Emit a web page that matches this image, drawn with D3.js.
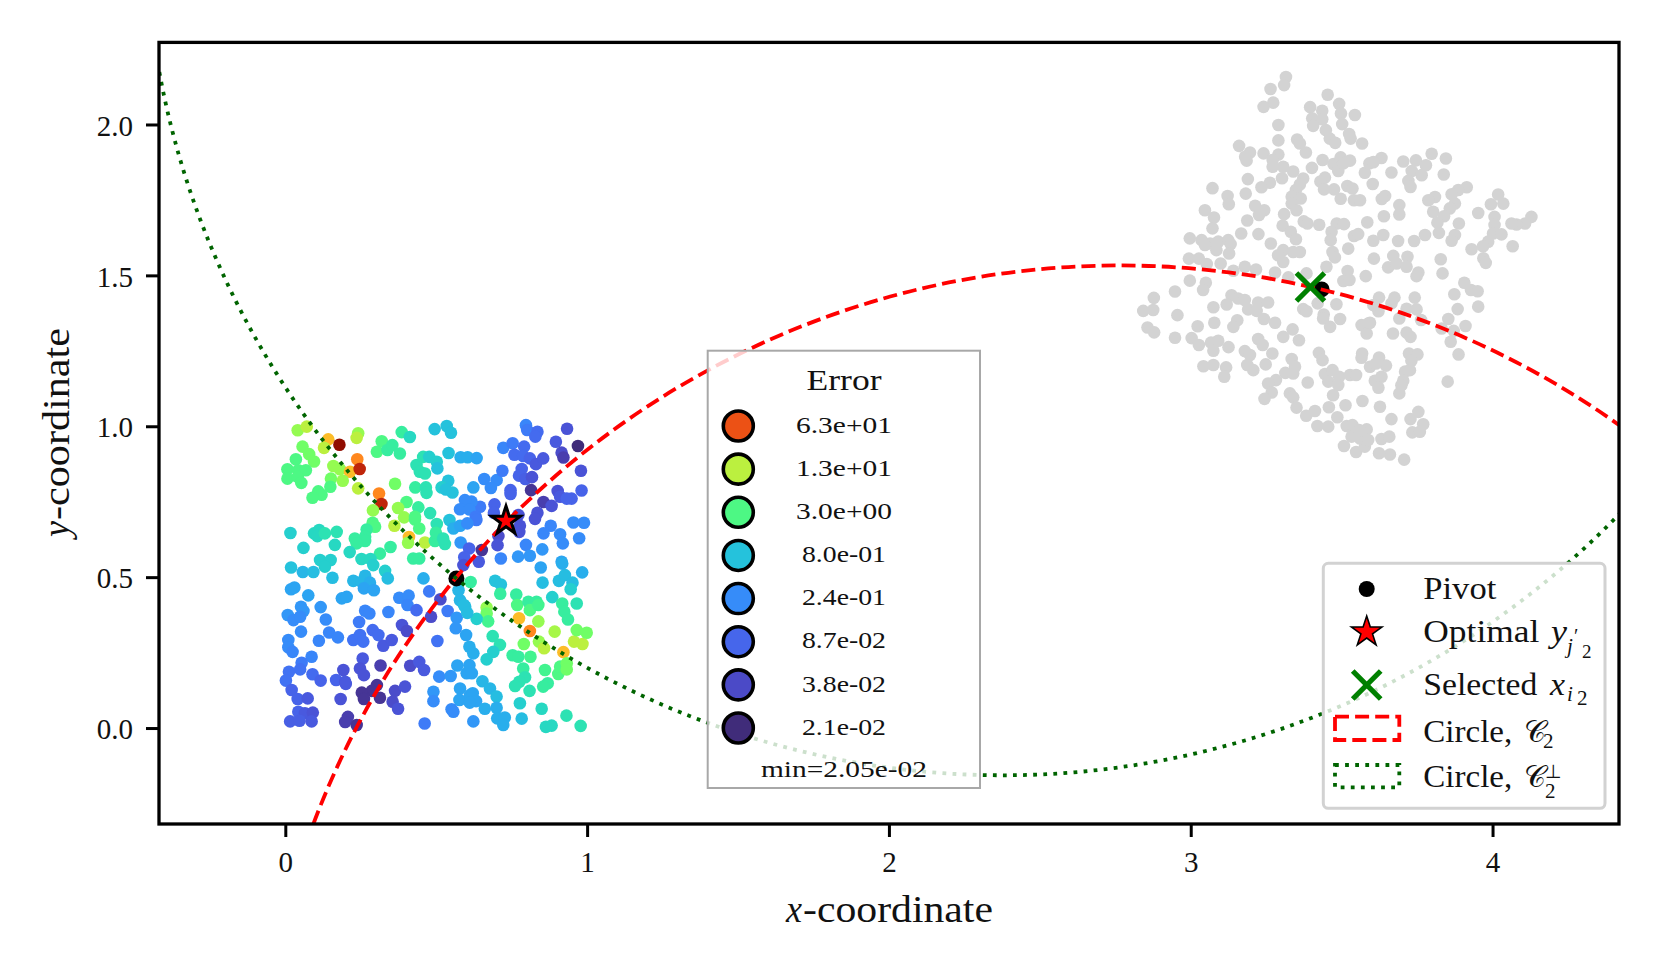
<!DOCTYPE html>
<html>
<head>
<meta charset="utf-8">
<script src="https://cdn.jsdelivr.net/npm/d3@7"></script>
<style>
  html, body { margin: 0; padding: 0; background: #fff; }
  svg { display: block; }
  text { font-family: "Liberation Serif", serif; fill: #111; }
</style>
</head>
<body>
<div id="chart"></div>
<script>
// ticks
const xTicks = [0, 1, 2, 3, 4];
const yTicks = [0, 0.5, 1, 1.5, 2];

// error legend
const legendErrors = [63, 13, 3, 0.8, 0.24, 0.087, 0.038, 0.021];
const legendLabels = ["6.3e+01", "1.3e+01", "3.0e+00", "8.0e-01", "2.4e-01", "8.7e-02", "3.8e-02", "2.1e-02"];

// error -> position on the turbo map
const errKnots = [0.021, 0.038, 0.087, 0.24, 0.8, 3, 13, 63, 200];
const turboPos = [0.035, 0.08, 0.12, 0.175, 0.26, 0.40, 0.55, 0.82, 1];

// special points
const pivotTarget = [0.566, 0.495];
const pivotSource = [3.428, 1.451];
const optimalY = [0.730, 0.685];
const selectedX = [3.391, 1.459];

// circles: cx, cy, r
const circle2 = [2.76, -1.319, 2.849];
const circlePerp = [2.374, 2.681, 2.837];

// target points [x, y, error]
const targetsUpperLeft = [
  [.041,.985,8],[.071,.997,13],[.142,.955,25],[.179,.937,200],[.128,.927,13],[.241,.975,8],[.236,.960,13],[.057,.931,5],
  [.079,.906,5],[.095,.882,5],[.035,.889,3],[.007,.856,3],[.007,.825,3],[.043,.853,3],[.068,.853,3],[.041,.831,3],
  [.053,.811,3],[.159,.867,8],[.181,.856,8],[.214,.848,25],[.238,.889,40],[.246,.857,100],[.151,.825,5],[.190,.818,8],
  [.149,.798,3],[.109,.783,3],[.120,.772,3],[.090,.762,3],[.241,.793,13],[.310,.776,40],[.318,.741,100],[.290,.720,8],
  [.363,.808,5],[.319,.949,3],[.303,.914,3],[.338,.920,2],[.354,.936,2],[.379,.908,2],[.385,.979,2],[.412,.963,1.2],
  [.494,.989,.8],[.430,.796,2],[.465,.796,1.5],[.467,.778,1.5],[.401,.748,3],[.373,.728,8],[.393,.697,8],[.440,.730,2],
  [.479,.711,1.5],[.429,.699,3],[.429,.690,3],[.443,.660,3],[.289,.679,3],[.297,.666,3],[.361,.669,13],[.409,.632,25],
  [.406,.613,8],[.462,.614,13],[.495,.619,2],[.348,.599,2],[.269,.657,2],[.230,.627,2],[.264,.633,2],[.264,.619,2],
  [.236,.611,2],[.164,.606,1.2],[.213,.582,1.2],[.313,.577,2],[.252,.559,1.2],[.282,.559,1.2],[.060,.596,1],[.017,.645,1],
  [.095,.644,1.2],[.112,.655,1.2],[.106,.635,1.2],[.131,.644,1.5],[.170,.649,1.5],[.423,.561,2],[.443,.561,2],[.115,.556,1],
  [.150,.556,1],[.434,.870,1.5],[.456,.897,1.5],[.476,.897,1],[.501,.881,1],[.445,.848,1.5],[.462,.842,1.5],[.503,.859,.8],
  [.501,.675,1.5],[.498,.646,2]
];
const targetsUpperRight = [
  [.534,.999,.8],[.548,.977,.8],[.540,.910,.8],[.580,.896,.5],[.603,.896,.5],[.633,.893,.4],[.539,.818,.8],[.517,.796,1],
  [.531,.789,.8],[.553,.779,.8],[.622,.796,.4],[.658,.824,.24],[.699,.820,.24],[.680,.794,.24],[.718,.851,.15],[.796,1.002,.2],
  [.800,.986,.15],[.834,.980,.1],[.827,.964,.1],[.932,.990,.05],[.895,.947,.06],[.968,.933,.021],[.914,.911,.04],[.920,.895,.03],
  [.721,.927,.2],[.752,.942,.15],[.790,.931,.1],[.758,.904,.1],[.787,.900,.1],[.809,.892,.08],[.829,.873,.06],[.853,.892,.06],
  [.978,.851,.05],[.782,.857,.08],[.773,.835,.08],[.794,.824,.07],[.816,.830,.05],[.813,.787,.025],[.745,.787,.08],[.745,.774,.08],
  [.901,.784,.05],[.909,.765,.06],[.947,.759,.08],[.931,.759,.08],[.980,.786,.08],[.854,.748,.03],[.881,.735,.05],[.692,.740,.08],
  [.644,.732,.15],[.616,.749,.24],[.594,.754,.24],[.578,.724,.24],[.609,.723,.24],[.630,.699,.15],[.632,.688,.15],[.834,.712,.05],
  [.826,.692,.05],[.771,.705,.05],[.776,.669,.05],[.774,.649,.05],[.690,.712,.08],[.705,.635,.04],[.702,.605,.05],[.543,.688,.8],
  [.556,.660,.5],[.578,.669,.4],[.602,.677,.24],[.528,.609,1.5],[.522,.627,1.5],[.580,.614,.3],[.608,.594,.08],[.650,.589,.025],
  [.592,.565,.08],[.640,.550,.06],[.713,.561,.2],[.796,.606,.2],[.770,.567,.3],[.809,.570,.3],[.850,.591,.3],[.953,.680,.24],
  [.988,.679,.24],[.878,.669,.2],[.854,.644,.2],[.909,.641,.24],[.918,.611,.24],[.972,.628,.24],[.914,.550,.4]
];
const targetsLowerLeft = [
  [.019,.531,.8],[.058,.516,.6],[.093,.516,.7],[.131,.534,1],[.156,.497,.7],[.291,.539,1],[.330,.520,1],[.339,.495,.7],
  [.225,.487,.6],[.264,.504,.6],[.253,.484,.6],[.280,.481,.5],[.260,.462,.4],[.293,.456,.4],[.019,.459,.4],[.030,.465,.4],
  [.076,.439,.4],[.117,.400,.3],[.052,.401,.3],[.060,.387,.3],[.008,.374,.3],[.027,.357,.24],[.049,.368,.24],[.134,.359,.24],
  [.052,.319,.24],[.145,.316,.2],[.174,.300,.2],[.111,.289,.2],[.010,.291,.24],[.010,.267,.24],[.024,.252,.2],[.087,.236,.2],
  [.054,.216,.15],[.049,.194,.12],[.012,.186,.12],[.002,.157,.12],[.090,.178,.1],[.117,.157,.08],[.021,.126,.08],[.041,.096,.08],
  [.074,.098,.06],[.043,.054,.08],[.065,.049,.06],[.091,.051,.05],[.016,.022,.07],[.047,.024,.07],[.087,.022,.06],[.192,.192,.05],
  [.168,.159,.08],[.198,.153,.06],[.200,.146,.06],[.183,.096,.05],[.207,.037,.03],[.198,.020,.03],[.236,.010,.025],[.256,.230,.06],
  [.247,.197,.05],[.260,.175,.05],[.315,.207,.03],[.303,.142,.025],[.286,.123,.025],[.253,.117,.025],[.260,.096,.025],[.313,.100,.025],
  [.363,.123,.04],[.396,.137,.05],[.355,.087,.04],[.373,.064,.05],[.413,.206,.04],[.443,.219,.06],[.459,.192,.06],[.461,.015,.15],
  [.490,.120,.3],[.490,.089,.24],[.509,.170,.24],[.547,.172,.3],[.569,.207,.4],[.600,.181,.4],[.578,.131,.4],[.576,.093,.4],
  [.550,.062,.24],[.556,.054,.24],[.611,.109,.4],[.341,.384,.2],[.244,.351,.15],[.264,.388,.2],[.278,.379,.2],[.225,.291,.12],
  [.247,.308,.12],[.258,.286,.12],[.289,.324,.1],[.308,.308,.1],[.324,.272,.06],[.352,.291,.06],[.386,.341,.05],[.402,.321,.04],
  [.503,.288,.12],[.377,.431,.24],[.408,.438,.24],[.404,.407,.2],[.434,.390,.1],[.187,.429,.4],[.203,.434,.4],[.476,.452,.15],
  [.513,.426,.04],[.482,.368,.04],[.457,.495,.5],[.537,.387,.15],[.567,.365,.3],[.564,.330,.3],[.598,.308,.4],[.589,.539,.05],
  [.573,.456,.6],[.578,.423,.6],[.595,.401,.7]
];
const targetsLowerRight = [
  [.613,.483,2],[.694,.487,.8],[.713,.475,.8],[.711,.444,2],[.764,.442,2],[.767,.407,3],[.804,.418,2],[.831,.418,2],
  [.809,.390,3],[.837,.407,2.5],[.666,.399,8],[.666,.379,5],[.671,.353,2.5],[.773,.363,25],[.837,.353,8],[.891,.319,10],
  [.809,.321,40],[.789,.278,5],[.839,.286,8],[.856,.264,13],[.920,.251,25],[.955,.286,13],[.983,.278,13],[.964,.324,5],
  [.997,.315,5],[.883,.433,1],[.916,.412,2],[.923,.385,2],[.935,.359,2],[.964,.412,1.5],[.851,.481,.7],[.905,.487,.7],
  [.925,.506,.7],[.950,.481,.7],[.944,.459,1],[.982,.515,.5],[.845,.531,.4],[.916,.544,.5],[.633,.361,1],[.591,.407,.7],
  [.602,.381,.7],[.686,.304,1.5],[.609,.269,.5],[.622,.247,.5],[.710,.275,1.5],[.688,.252,1],[.666,.227,1],[.752,.241,2],
  [.771,.236,2],[.811,.236,2.5],[.787,.197,2],[.793,.168,1.5],[.774,.153,1.5],[.760,.139,1.5],[.808,.123,1.5],[.859,.192,2.5],
  [.868,.148,2],[.853,.137,2],[.903,.179,3],[.909,.203,3],[.931,.214,5],[.931,.194,5],[.609,.208,.4],[.617,.181,.4],
  [.652,.155,.6],[.677,.131,.6],[.699,.104,.7],[.620,.115,.4],[.631,.089,.4],[.610,.084,.4],[.660,.064,.5],[.699,.067,.5],
  [.701,.032,.5],[.726,.035,.5],[.721,.010,.5],[.622,.022,.3],[.782,.031,.7],[.776,.082,1],[.848,.064,1.2],[.930,.041,1.5],
  [.862,.004,1.2],[.881,.008,1.2],[.977,.007,1.5]
];

// source points [x, y]
const sourcesTop = [
  [3.310,2.154],[3.304,2.127],[3.259,2.114],[3.268,2.069],[3.236,2.055],[3.448,2.095],[3.486,2.065],[3.390,2.054],[3.430,2.042],[3.492,2.033],
  [3.538,2.028],[3.397,2.017],[3.430,2.014],[3.400,1.992],[3.496,1.998],[3.285,1.995],[3.442,1.978],[3.285,1.944],[3.347,1.947],[3.356,1.934],
  [3.376,1.904],[3.455,1.950],[3.473,1.936],[3.519,1.965],[3.524,1.950],[3.562,1.934],[3.155,1.926],[3.191,1.904],[3.175,1.890],[3.180,1.877],
  [3.236,1.901],[3.285,1.897],[3.266,1.879],[3.266,1.857],[3.301,1.857],[3.334,1.841],[3.297,1.819],[3.396,1.853],[3.431,1.879],[3.467,1.866],
  [3.491,1.888],[3.522,1.877],[3.483,1.843],[3.500,1.868],[3.571,1.837],[3.586,1.868],[3.367,1.818],[3.356,1.798],[3.184,1.816],[3.257,1.804],
  [3.229,1.789],[3.439,1.821],[3.424,1.808],[3.436,1.782],[3.469,1.782],[3.491,1.751],[3.513,1.793],[3.530,1.785],[3.535,1.746],[3.555,1.746],
  [3.067,1.786],[3.177,1.768],[3.117,1.760],[3.121,1.733],[3.343,1.780],[3.329,1.758],[3.359,1.752],[3.329,1.735],[3.345,1.713],[3.208,1.728],
  [3.238,1.713],[3.221,1.697],[3.042,1.713],[3.072,1.689],[3.304,1.700],[3.182,1.679],[3.067,1.653],[3.369,1.676],[3.381,1.669],[3.420,1.665],
  [3.478,1.669],[3.502,1.667],[3.461,1.642],[3.579,1.673],[3.299,1.662],[3.326,1.642],[3.162,1.636],[3.219,1.634],[2.992,1.620],[3.031,1.614],
  [3.059,1.603],[3.086,1.609],[3.119,1.614],[3.127,1.601],[3.535,1.628],[3.549,1.634],[3.458,1.614],[3.343,1.617],[3.260,1.603],[3.516,1.586]
];
const sourcesTopRight = [
  [3.626,1.886],[3.599,1.872],[3.659,1.838],[3.597,1.800],[3.698,1.874],[3.792,1.900],[3.740,1.878],[3.773,1.862],[3.839,1.884],[3.726,1.843],
  [3.759,1.829],[3.832,1.831],[3.715,1.810],[3.722,1.790],[3.908,1.789],[3.880,1.780],[3.858,1.766],[4.012,1.765],[3.988,1.733],[4.029,1.735],
  [3.638,1.760],[3.627,1.750],[3.803,1.757],[3.781,1.746],[3.685,1.730],[3.685,1.699],[3.869,1.735],[3.852,1.719],[3.797,1.708],[3.833,1.693],
  [3.946,1.704],[3.634,1.693],[3.811,1.672],[3.882,1.669],[4.000,1.691],[4.000,1.664],[4.122,1.691],[4.101,1.669],[4.073,1.666],[4.056,1.669],
  [3.816,1.638],[3.869,1.631],[3.858,1.612],[3.995,1.636],[4.023,1.633],[3.770,1.631],[3.734,1.611],[3.681,1.611],[3.632,1.631],[3.599,1.612],
  [3.924,1.584],[3.979,1.609],[3.962,1.594],[4.060,1.594]
];
const sourcesBottom = [
  [3.122,1.570],[3.080,1.581],[3.042,1.598],[3.301,1.581],[3.284,1.564],[3.356,1.575],[3.334,1.575],[3.301,1.542],[3.464,1.575],[3.472,1.557],
  [2.989,1.553],[3.022,1.553],[3.048,1.535],[3.094,1.537],[3.136,1.513],[3.174,1.526],[3.211,1.517],[3.274,1.507],[3.444,1.526],[3.378,1.504],
  [3.318,1.491],[3.514,1.512],[3.500,1.479],[3.520,1.482],[3.574,1.495],[2.992,1.480],[3.045,1.473],[3.036,1.449],[2.943,1.444],[2.873,1.423],
  [2.838,1.380],[2.871,1.383],[2.852,1.325],[2.874,1.309],[2.951,1.366],[2.943,1.291],[3.070,1.392],[3.130,1.432],[3.114,1.401],[3.152,1.421],
  [3.174,1.416],[3.218,1.408],[3.251,1.408],[3.185,1.385],[3.213,1.380],[3.237,1.353],[3.274,1.341],[3.073,1.341],[3.149,1.349],[3.136,1.327],
  [3.018,1.329],[2.998,1.290],[3.022,1.267],[3.062,1.275],[3.086,1.281],[3.070,1.248],[3.120,1.260],[3.218,1.287],[3.233,1.267],[3.265,1.239],
  [3.174,1.247],[3.191,1.234],[3.182,1.201],[3.202,1.184],[3.243,1.203],[3.037,1.197],[3.070,1.201],[3.112,1.193],[3.106,1.162],[3.301,1.294],
  [3.332,1.319],[3.353,1.283],[3.367,1.386],[3.378,1.379],[3.415,1.405],[3.477,1.402],[3.435,1.368],[3.433,1.355],[3.489,1.353],[3.456,1.327],
  [3.560,1.333],[3.582,1.338],[3.577,1.305],[3.419,1.241],[3.431,1.217],[3.329,1.221],[3.340,1.195],[3.308,1.175],[3.334,1.173],[3.277,1.151],
  [3.251,1.140],[3.263,1.110],[3.239,1.089],[3.323,1.107],[3.334,1.094],[3.345,1.060],[3.382,1.143],[3.439,1.171],[3.464,1.184],[3.486,1.162],
  [3.450,1.146],[3.483,1.135],[3.466,1.101],[3.522,1.168],[3.542,1.168],[3.562,1.239],[3.560,1.225],[3.563,1.082],[3.507,1.068],[3.452,1.061],
  [3.480,1.028],[3.406,1.049],[3.377,1.033],[3.414,.999],[3.450,.997],[3.511,.999],[3.530,1.002],[3.527,.964],[3.577,.988],[3.502,.933],
  [3.542,.913],[3.571,.931],[3.555,.958]
];
const sourcesBottomRight = [
  [3.601,1.553],[3.648,1.524],[3.665,1.562],[3.676,1.537],[3.712,1.559],[3.709,1.526],[3.748,1.507],[3.742,1.495],[3.822,1.551],[3.828,1.504],
  [3.963,1.554],[3.971,1.539],[3.900,1.473],[3.922,1.449],[3.944,1.445],[3.867,1.435],[3.878,1.386],[3.946,1.394],[3.618,1.424],[3.659,1.405],
  [3.669,1.424],[3.616,1.379],[3.599,1.399],[3.736,1.424],[3.709,1.387],[3.742,1.385],[3.685,1.355],[3.757,1.350],[3.588,1.341],[3.664,1.305],
  [3.709,1.308],[3.722,1.294],[3.847,1.353],[3.904,1.330],[3.825,1.322],[3.865,1.314],[3.855,1.278],[3.881,1.236],[3.618,1.226],[3.588,1.195],
  [3.641,1.199],[3.608,1.206],[3.717,1.239],[3.745,1.236],[3.725,1.215],[3.704,1.179],[3.720,1.184],[3.626,1.162],[3.604,1.149],[3.616,1.126],
  [3.698,1.149],[3.685,1.107],[3.692,1.134],[3.845,1.146],[3.621,1.063],[3.659,1.022],[3.748,1.046],[3.722,1.022],[3.764,1.005],[3.728,.978],
  [3.753,.980],[3.582,.953],[3.626,.956],[3.652,.964],[3.654,.905],[3.618,.909],[3.701,.888],[3.552,.986]
];

const width = 1661, height = 969;
const margin = { top: 42.4, right: 42, bottom: 145, left: 159 };
const pointRadius = 6.3;

const x = d3.scaleLinear().domain([-0.4185, 4.419]).range([margin.left, width - margin.right]);
const y = d3.scaleLinear().domain([-0.318, 2.272]).range([height - margin.bottom, margin.top]);
const unit = x(1) - x(0);

// values above were read with a ruler about 0.17% short of the final tick spacing
const readFix = 302.3 / 301.8;
const px = v => x(v * readFix);
const py = v => y(v * readFix);

const errToPos = d3.scaleLog().domain(errKnots).range(turboPos).clamp(true);
const errColor = e => d3.interpolateTurbo(errToPos(e));

const svg = d3.select("#chart").append("svg").attr("width", width).attr("height", height);

svg.append("defs").append("clipPath").attr("id", "plotClip")
  .append("rect")
  .attr("x", margin.left).attr("y", margin.top)
  .attr("width", width - margin.left - margin.right)
  .attr("height", height - margin.top - margin.bottom);

// small text helper, width is forced because CM is wider than Liberation
function put(parent, tx, ty, str, size, opts = {}) {
  const t = parent.append("text")
    .attr("x", tx).attr("y", ty)
    .attr("font-size", size)
    .attr("text-anchor", opts.anchor || "start")
    .text(str);
  if (opts.len) t.attr("textLength", opts.len).attr("lengthAdjust", "spacingAndGlyphs");
  if (opts.italic) t.attr("font-style", "italic");
  if (opts.rotate) t.attr("transform", `rotate(${opts.rotate} ${tx} ${ty})`);
  return t;
}

const plot = svg.append("g").attr("clip-path", "url(#plotClip)");

// source cloud
plot.append("g").selectAll("circle")
  .data([...sourcesTop, ...sourcesTopRight, ...sourcesBottom, ...sourcesBottomRight])
  .enter().append("circle")
  .attr("cx", d => px(d[0]))
  .attr("cy", d => py(d[1]))
  .attr("r", pointRadius)
  .attr("fill", "lightgray");

// target points coloured by error
plot.append("g").selectAll("circle")
  .data([...targetsUpperLeft, ...targetsUpperRight, ...targetsLowerLeft, ...targetsLowerRight])
  .enter().append("circle")
  .attr("cx", d => px(d[0]))
  .attr("cy", d => py(d[1]))
  .attr("r", pointRadius)
  .attr("fill", d => errColor(d[2]));

// pivots
plot.selectAll(".pivot")
  .data([pivotTarget, pivotSource])
  .enter().append("circle")
  .attr("class", "pivot")
  .attr("cx", d => px(d[0]))
  .attr("cy", d => py(d[1]))
  .attr("r", 8)
  .attr("fill", "black");

// circles
plot.append("circle")
  .attr("cx", px(circle2[0])).attr("cy", py(circle2[1])).attr("r", circle2[2] * readFix * unit)
  .attr("fill", "none").attr("stroke", "red").attr("stroke-width", 3.8)
  .attr("stroke-dasharray", "14 6.1");
plot.append("circle")
  .attr("cx", px(circlePerp[0])).attr("cy", py(circlePerp[1])).attr("r", circlePerp[2] * readFix * unit)
  .attr("fill", "none").attr("stroke", "darkgreen").attr("stroke-width", 3.8)
  .attr("stroke-dasharray", "3.8 6.3");

// star and cross
const starPath = d3.symbol().type(d3.symbolStar);
const crossPath = d3.symbol().type(d3.symbolTimes).size(513);

plot.append("path")
  .attr("d", starPath.size(252)())
  .attr("transform", `translate(${px(optimalY[0])},${py(optimalY[1])})`)
  .attr("fill", "red").attr("stroke", "black").attr("stroke-width", 3);
plot.append("path")
  .attr("d", crossPath())
  .attr("transform", `translate(${px(selectedX[0])},${py(selectedX[1])})`)
  .attr("fill", "none").attr("stroke", "green").attr("stroke-width", 5.2);

// axes
const xAxis = svg.append("g")
  .attr("transform", `translate(0,${height - margin.bottom})`)
  .call(d3.axisBottom(x).tickValues(xTicks).tickFormat(d3.format("d")).tickSize(13).tickPadding(14));
const yAxis = svg.append("g")
  .attr("transform", `translate(${margin.left},0)`)
  .call(d3.axisLeft(y).tickValues(yTicks).tickFormat(d3.format(".1f")).tickSize(13).tickPadding(13));

[xAxis, yAxis].forEach(a => {
  a.select(".domain").remove();
  a.selectAll("line").attr("stroke", "black").attr("stroke-width", 3);
  a.selectAll("text")
    .attr("font-size", 29)
    .attr("font-family", '"Liberation Serif", serif')
    .attr("fill", "#111");
});
yAxis.selectAll("text").attr("dy", "0.37em");

svg.append("rect")
  .attr("x", margin.left).attr("y", margin.top)
  .attr("width", width - margin.left - margin.right)
  .attr("height", height - margin.top - margin.bottom)
  .attr("fill", "none").attr("stroke", "black").attr("stroke-width", 3.3);

// axis titles
put(svg, 786, 922, "x", 37, { italic: true, len: 16 });
put(svg, 803, 922, "-coordinate", 37, { len: 190 });

put(svg, 69, 537, "y", 37, { italic: true, rotate: -90, len: 16 });
svg.append("text")
  .attr("transform", "translate(69,520) rotate(-90)")
  .attr("font-size", 37)
  .attr("textLength", 192).attr("lengthAdjust", "spacingAndGlyphs")
  .text("-coordinate");

// error legend
const errLegend = svg.append("g");
errLegend.append("rect")
  .attr("x", 707.7).attr("y", 350.7)
  .attr("width", 272.3).attr("height", 437.3)
  .attr("fill", "white").attr("fill-opacity", 0.8)
  .attr("stroke", "#a8a8a8").attr("stroke-width", 2);

put(errLegend, 844, 390, "Error", 30, { anchor: "middle", len: 75 });

const rowY = d3.scaleLinear().domain([0, legendErrors.length - 1]).range([426, 728]);
legendErrors.forEach((e, i) => {
  errLegend.append("circle")
    .attr("cx", 738.3).attr("cy", rowY(i)).attr("r", 15)
    .attr("fill", errColor(e)).attr("stroke", "black").attr("stroke-width", 3.6);
  put(errLegend, 844, rowY(i) + 6.7, legendLabels[i], 23, {
    anchor: "middle",
    len: legendLabels[i].includes("+") ? 96 : 84
  });
});
put(errLegend, 844, 776.7, "min=2.05e-02", 23, { anchor: "middle", len: 166 });

// marker legend
const keyLegend = svg.append("g");
keyLegend.append("rect")
  .attr("x", 1323.3).attr("y", 563.3)
  .attr("width", 281.7).attr("height", 245)
  .attr("rx", 5)
  .attr("fill", "white").attr("fill-opacity", 0.8)
  .attr("stroke", "#d2d2d2").attr("stroke-width", 3);

keyLegend.append("circle").attr("cx", 1366.7).attr("cy", 589).attr("r", 8).attr("fill", "black");
keyLegend.append("path")
  .attr("d", starPath.size(287)())
  .attr("transform", "translate(1366.7,632)")
  .attr("fill", "red").attr("stroke", "black").attr("stroke-width", 1.6);
keyLegend.append("path")
  .attr("d", crossPath())
  .attr("transform", "translate(1366.7,685)")
  .attr("fill", "none").attr("stroke", "green").attr("stroke-width", 5.2);
keyLegend.append("rect")
  .attr("x", 1335).attr("y", 716.7).attr("width", 64.3).attr("height", 23.3)
  .attr("fill", "none").attr("stroke", "red").attr("stroke-width", 3.8)
  .attr("stroke-dasharray", "14 6.1");
keyLegend.append("rect")
  .attr("x", 1335).attr("y", 765).attr("width", 64.3).attr("height", 22.3)
  .attr("fill", "none").attr("stroke", "darkgreen").attr("stroke-width", 3.8)
  .attr("stroke-dasharray", "3.8 6.3");

put(keyLegend, 1423.3, 598.7, "Pivot", 31, { len: 73 });

put(keyLegend, 1423.3, 642, "Optimal", 31, { len: 116 });
put(keyLegend, 1551, 642, "y", 31, { italic: true, len: 16 });
put(keyLegend, 1567, 653, "j", 21, { italic: true });
put(keyLegend, 1574, 643, "\u2032", 20);
put(keyLegend, 1582, 658, "2", 19);

put(keyLegend, 1423.3, 694.7, "Selected", 31, { len: 114 });
put(keyLegend, 1550, 694.7, "x", 31, { italic: true, len: 15 });
put(keyLegend, 1567, 701, "i", 21, { italic: true });
put(keyLegend, 1577, 705, "2", 21);

put(keyLegend, 1423.3, 742, "Circle,", 31, { len: 89 });
put(keyLegend, 1524, 742, "\ud835\udc9e", 30);
put(keyLegend, 1543, 748, "2", 21);

put(keyLegend, 1423.3, 787, "Circle,", 31, { len: 89 });
put(keyLegend, 1524, 787, "\ud835\udc9e", 30);
put(keyLegend, 1545, 778, "\u22a5", 19);
put(keyLegend, 1545, 798, "2", 21);
</script>
</body>
</html>
